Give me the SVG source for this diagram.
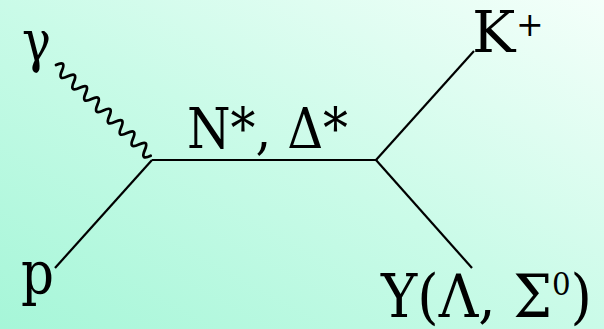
<svg xmlns="http://www.w3.org/2000/svg" width="604" height="329" viewBox="0 0 604 329">
<defs>
<linearGradient id="bg" x1="0" y1="1" x2="1" y2="0">
<stop offset="0" stop-color="#a6f6d8"/>
<stop offset="0.5" stop-color="#cafbe8"/>
<stop offset="1" stop-color="#f4fffa"/>
</linearGradient>
<style>
text{font-family:'DejaVu Serif',serif;fill:#000}
.ln{stroke:#000;stroke-width:2.2;fill:none}
.wv{stroke:#000;stroke-width:2.8;fill:none;stroke-linecap:round}
</style>
</defs>
<rect x="0" y="0" width="604" height="329" fill="url(#bg)"/>
<g id="connectors">
<line class="ln" x1="55" y1="268" x2="152" y2="160"/>
<line class="ln" x1="152" y1="160" x2="376" y2="160"/>
<line class="ln" x1="376" y1="160" x2="474" y2="51"/>
<line class="ln" x1="376" y1="160" x2="472" y2="268"/>
<path class="wv" transform="translate(56,65) rotate(43.8)" d="M0,0 q4.1,-11 8.2,0 t8.2,0 t8.2,0 t8.2,0 t8.2,0 t8.2,0 t8.2,0 t8.2,0 t8.2,0 t8.2,0 t8.2,0 t8.2,0 t8.2,0 t8.2,0 t8.2,0 t8.2,0"/>
</g>
<g id="gamma"><text x="22" y="61" font-size="58" textLength="29" lengthAdjust="spacingAndGlyphs">γ</text></g>
<g id="proton"><text x="21" y="294" font-size="60" textLength="33" lengthAdjust="spacingAndGlyphs">p</text></g>
<g id="resonance"><text x="187" y="148" font-size="56" textLength="161" lengthAdjust="spacingAndGlyphs">N*, Δ*</text></g>
<g id="kaon"><text x="472" y="52" font-size="58">K<tspan x="516" y="36" font-size="33">+</tspan></text></g>
<g id="hyperon"><text x="381" y="317" font-size="60" textLength="211" lengthAdjust="spacingAndGlyphs">Y(Λ, Σ<tspan font-size="32" dy="-22">0</tspan><tspan dy="22">)</tspan></text></g>
</svg>
